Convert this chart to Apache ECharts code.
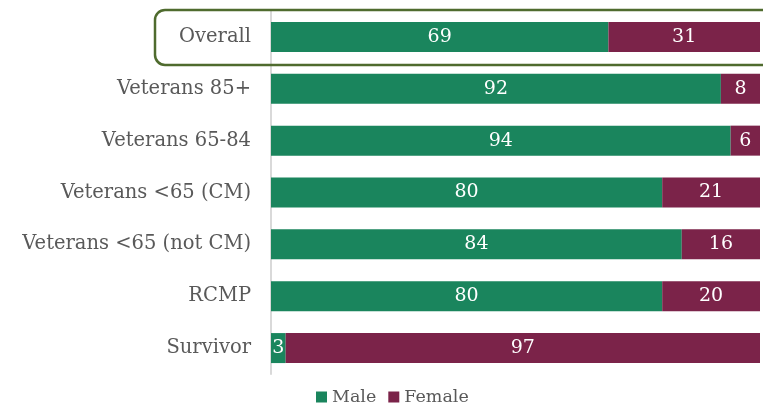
<!DOCTYPE html>
<html lang="en">
<head>
    <meta charset="UTF-8">
    <title>Male / Female</title>
    <script src="https://cdn.jsdelivr.net/npm/echarts@6/dist/echarts.min.js"></script>
    <style>
        body { margin: 0; background: #fff; }
    </style>
</head>
<body>
<div id="main" style="width: 763px;height:409px;"></div>
<script type="text/javascript">
    var groups = ['Overall', 'Veterans 85+', 'Veterans 65-84', 'Veterans <65 (CM)', 'Veterans <65 (not CM)', 'RCMP', 'Survivor'];
    var male = [69, 92, 94, 80, 84, 80, 3];
    var female = [31, 8, 6, 21, 16, 20, 97];

    var serif = '"DejaVu Serif", "Liberation Serif", serif';
    var chartDom = document.getElementById('main');
    var myChart = echarts.init(chartDom);
    var option;

    var lbl = {
        show: true,
        position: 'inside',
        color: '#fff',
        fontFamily: serif,
        fontSize: 19
    };

    option = {
        animation: false,
        textStyle: { fontFamily: serif },
        grid: { left: 271, right: 3, top: 11, height: 363 },
        legend: {
            top: 388,
            left: 316,
            padding: 0,
            itemWidth: 11,
            itemHeight: 11,
            itemGap: 12,
            icon: 'rect',
            textStyle: { color: '#595959', fontSize: 17.5, fontFamily: serif },
            data: ['Male', 'Female']
        },
        xAxis: {
            type: 'value',
            min: 0,
            max: 100,
            show: false
        },
        yAxis: {
            type: 'category',
            inverse: true,
            data: groups,
            axisLine: { lineStyle: { color: '#d9d9d9', width: 2 } },
            axisTick: { show: false },
            axisLabel: { color: '#595959', fontSize: 19.5, margin: 20, fontFamily: serif }
        },
        series: [
            {
                name: 'Male',
                type: 'bar',
                stack: 'g',
                barWidth: 30,
                itemStyle: { color: '#1a855d' },
                label: lbl,
                data: male
            },
            {
                name: 'Female',
                type: 'bar',
                stack: 'g',
                barWidth: 30,
                itemStyle: { color: '#7b2349' },
                label: lbl,
                data: female
            }
        ]
    };

    option && myChart.setOption(option);

    // highlight box round the Overall row
    var yOverall = myChart.convertToPixel({ yAxisIndex: 0 }, groups[0]);
    myChart.setOption({
        graphic: [{
            type: 'rect',
            silent: true,
            shape: { x: 155, y: yOverall - 27, width: 640, height: 55, r: 10 },
            style: { fill: 'none', stroke: '#4f6b2e', lineWidth: 2.5 },
            z: 10
        }]
    });
</script>
</body>
</html>
